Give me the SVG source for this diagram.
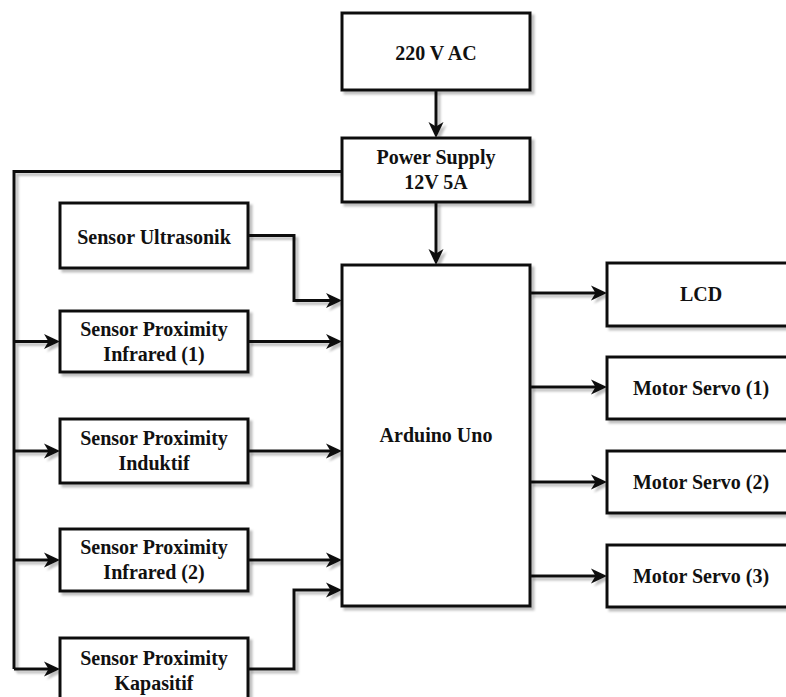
<svg xmlns="http://www.w3.org/2000/svg" width="786" height="697" viewBox="0 0 786 697">
  <defs>
    <filter id="sh" filterUnits="userSpaceOnUse" x="0" y="0" width="786" height="697">
      <feDropShadow dx="3" dy="3" stdDeviation="1" flood-color="#000" flood-opacity="0.25"/>
    </filter>
    <marker id="arr" markerUnits="userSpaceOnUse" markerWidth="17" markerHeight="16" refX="11" refY="8" orient="auto">
      <path d="M0,0.5 L16,8 L0,15.5 L4.5,8 Z" fill="#111"/>
    </marker>
  </defs>
  <style>
    .box { fill: #fff; stroke: #111; stroke-width: 3; filter: url(#sh); }
    .t { font-family: "Liberation Serif", "Times New Roman", serif; font-weight: bold; font-size: 20px; fill: #111; text-anchor: middle; }
    .c { fill: none; stroke: #111; stroke-width: 3; }
    .a { marker-end: url(#arr); }
  </style>
  <rect width="786" height="697" fill="#fff"/>

  <g id="connectors" filter="url(#sh)">
    <path class="c a" d="M436,90 V133"/>
    <path class="c a" d="M436,202 V260"/>
    <path class="c" d="M342,171.5 H14 V669"/>
    <path class="c a" d="M14,341.5 H55"/>
    <path class="c a" d="M14,451 H55"/>
    <path class="c a" d="M14,560 H55"/>
    <path class="c a" d="M14,669 H55"/>
    <path class="c a" d="M248,235.5 H294 V300.5 H337"/>
    <path class="c a" d="M248,341.5 H337"/>
    <path class="c a" d="M248,451 H337"/>
    <path class="c a" d="M248,560 H337"/>
    <path class="c a" d="M248,669 H294 V590 H337"/>
    <path class="c a" d="M530,293 H602"/>
    <path class="c a" d="M530,387 H602"/>
    <path class="c a" d="M530,482 H602"/>
    <path class="c a" d="M530,576 H602"/>
  </g>

  <g id="ac220">
    <rect class="box" x="342" y="13" width="188" height="77"/>
    <text class="t" x="436" y="59.5">220 V AC</text>
  </g>
  <g id="power-supply">
    <rect class="box" x="342" y="138" width="188" height="64"/>
    <text class="t" x="436" y="164">Power Supply</text>
    <text class="t" x="436" y="189">12V 5A</text>
  </g>
  <g id="arduino">
    <rect class="box" x="342" y="265" width="188" height="341"/>
    <text class="t" x="436" y="442">Arduino Uno</text>
  </g>
  <g id="ultrasonik">
    <rect class="box" x="60" y="203" width="188" height="65"/>
    <text class="t" x="154" y="243.5">Sensor Ultrasonik</text>
  </g>
  <g id="infrared1">
    <rect class="box" x="60" y="311" width="188" height="61"/>
    <text class="t" x="154" y="335.5">Sensor Proximity</text>
    <text class="t" x="154" y="360.5">Infrared (1)</text>
  </g>
  <g id="induktif">
    <rect class="box" x="60" y="419" width="188" height="64"/>
    <text class="t" x="154" y="445">Sensor Proximity</text>
    <text class="t" x="154" y="470">Induktif</text>
  </g>
  <g id="infrared2">
    <rect class="box" x="60" y="529" width="188" height="62"/>
    <text class="t" x="154" y="554">Sensor Proximity</text>
    <text class="t" x="154" y="579">Infrared (2)</text>
  </g>
  <g id="kapasitif">
    <rect class="box" x="60" y="638" width="188" height="66"/>
    <text class="t" x="154" y="664.5">Sensor Proximity</text>
    <text class="t" x="154" y="689.5">Kapasitif</text>
  </g>
  <g id="lcd">
    <rect class="box" x="607" y="263" width="188" height="63"/>
    <text class="t" x="701" y="301">LCD</text>
  </g>
  <g id="servo1">
    <rect class="box" x="607" y="357" width="188" height="62"/>
    <text class="t" x="701" y="394.5">Motor Servo (1)</text>
  </g>
  <g id="servo2">
    <rect class="box" x="607" y="451" width="188" height="62"/>
    <text class="t" x="701" y="488.5">Motor Servo (2)</text>
  </g>
  <g id="servo3">
    <rect class="box" x="607" y="545" width="188" height="62"/>
    <text class="t" x="701" y="582.5">Motor Servo (3)</text>
  </g>
</svg>
